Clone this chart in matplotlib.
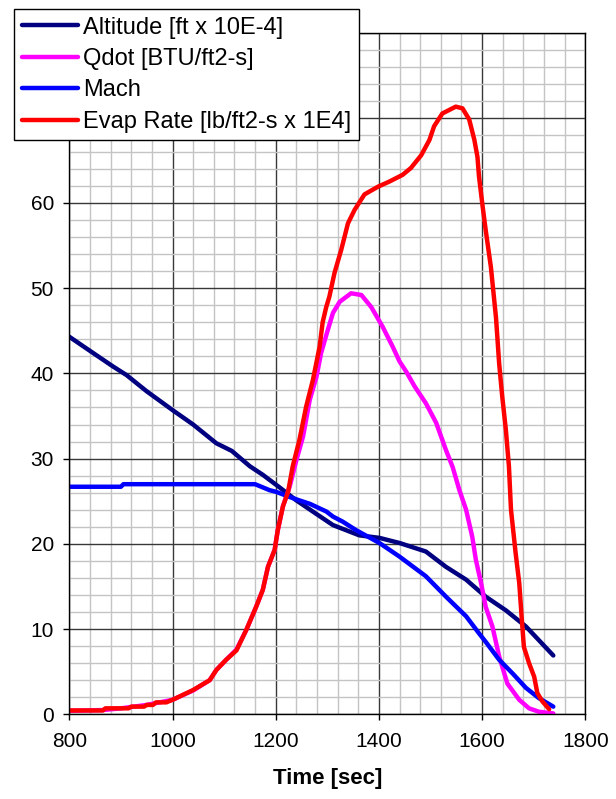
import matplotlib
matplotlib.use("Agg")
import matplotlib.pyplot as plt
from matplotlib.ticker import MultipleLocator

# ---- data ----
alt_t = [800, 846, 885, 911, 950, 1000, 1040, 1085, 1115, 1150, 1175, 1208, 1240, 1279, 1311,
         1362, 1401, 1440, 1491, 1530, 1569, 1607, 1646, 1685, 1738]
alt_v = [44.3, 42.4, 40.8, 39.8, 37.9, 35.7, 34.0, 31.8, 30.9, 29.1, 28.1, 26.6, 25.1, 23.5, 22.2,
         21.0, 20.7, 20.1, 19.1, 17.3, 15.8, 13.8, 12.2, 10.3, 6.9]

qdot_t = [800, 865, 900, 950, 1000, 1040, 1072, 1085, 1104, 1124, 1143, 1162, 1175, 1185, 1198,
          1204, 1214, 1227, 1240, 1253, 1266, 1279, 1288, 1301, 1311, 1324, 1346, 1366, 1385,
          1407, 1427, 1440, 1453, 1469, 1491, 1511, 1530, 1543, 1556, 1569, 1581, 1588, 1598,
          1607, 1620, 1633, 1649, 1672, 1691, 1710, 1738]
qdot_v = [0.4, 0.5, 0.7, 1.1, 1.7, 2.8, 4.0, 5.2, 6.4, 7.6, 9.9, 12.6, 14.6, 17.3, 19.3,
          21.6, 24.4, 26.7, 29.8, 32.6, 36.9, 39.6, 42.4, 45.1, 47.1, 48.4, 49.4, 49.2, 47.8,
          45.5, 43.1, 41.4, 40.2, 38.5, 36.5, 34.2, 31.0, 29.0, 26.3, 24.0, 20.8, 18.1, 15.4,
          12.6, 10.3, 6.8, 3.6, 1.7, 0.7, 0.3, 0.1]

mach_t = [800, 900, 905, 1160, 1188, 1201, 1227, 1246, 1266, 1298, 1311, 1330, 1356, 1401, 1440,
          1491, 1530, 1569, 1594, 1607, 1633, 1659, 1685, 1710, 1738]
mach_v = [26.7, 26.7, 27.0, 27.0, 26.3, 26.1, 25.5, 25.1, 24.7, 23.8, 23.2, 22.6, 21.6, 20.1, 18.5,
          16.2, 13.8, 11.5, 9.5, 8.5, 6.4, 4.8, 3.1, 1.9, 0.9]

evap_t = [800, 865, 870, 915, 920, 945, 950, 962, 968, 988, 1000, 1014, 1040, 1072, 1085, 1104,
          1124, 1143, 1162, 1175, 1185, 1198, 1204, 1214, 1224, 1233, 1246, 1259, 1272, 1285,
          1291, 1298, 1304, 1314, 1327, 1340, 1353, 1372, 1398, 1420, 1446, 1462, 1482, 1498,
          1507, 1523, 1549, 1562, 1575, 1585, 1591, 1594, 1601, 1607, 1617, 1627, 1633, 1639,
          1646, 1652, 1656, 1665, 1672, 1677, 1681, 1691, 1701, 1707, 1717, 1730]
evap_v = [0.45, 0.45, 0.7, 0.7, 0.9, 0.9, 1.1, 1.1, 1.4, 1.4, 1.7, 2.1, 2.85, 4.0, 5.2, 6.4,
          7.5, 9.9, 12.6, 14.6, 17.3, 19.3, 21.6, 24.4, 26.1, 29.1, 32.2, 36.1, 39.2, 43.1,
          46.0, 47.8, 49.0, 51.8, 54.5, 57.6, 59.2, 61.0, 61.9, 62.5, 63.3, 64.1, 65.6, 67.4,
          69.0, 70.5, 71.3, 71.1, 69.8, 67.4, 65.4, 63.1, 59.6, 56.8, 52.5, 46.5, 41.2, 37.3,
          33.4, 29.1, 24.0, 18.9, 15.4, 11.1, 7.9, 6.0, 4.4, 2.5, 1.5, 0.6]

labels = ["Altitude [ft x 10E-4]", "Qdot [BTU/ft2-s]", "Mach", "Evap Rate [lb/ft2-s x 1E4]"]
colors = ["#000080", "#FF00FF", "#0000FF", "#FF0000"]
x_ticks = [800, 1000, 1200, 1400, 1600, 1800]

plt.rcParams['font.family'] = ['Liberation Sans', 'DejaVu Sans']

W, H = 616, 799
fig = plt.figure(figsize=(W / 100, H / 100), dpi=100)
ax = fig.add_axes([69.3 / W, 1 - 714.3 / H, (585.3 - 69.3) / W, (714.3 - 32.5) / H])

lw = 3.2
for (t, v), lab, c in zip([(alt_t, alt_v), (qdot_t, qdot_v), (mach_t, mach_v), (evap_t, evap_v)],
                          labels, colors):
    ax.plot(t, v, color=c, lw=lw, label=lab, solid_joinstyle='round', solid_capstyle='round')

ax.set_xlim(800, 1800)
ax.set_ylim(0, 80)
ax.set_xticks(x_ticks)
ax.xaxis.set_minor_locator(MultipleLocator(40))
ax.yaxis.set_major_locator(MultipleLocator(10))
ax.yaxis.set_minor_locator(MultipleLocator(2))
ax.grid(which='minor', color='#c4c4c4', lw=1.0)
ax.grid(which='major', color='#383838', lw=1.0)
ax.set_axisbelow(True)
ax.tick_params(which='major', direction='out', length=4, width=1, labelsize=15, colors='black')
ax.tick_params(axis='x', which='major', pad=9)
ax.tick_params(axis='y', which='major', pad=7)
ax.tick_params(which='minor', length=0)
for s in ax.spines.values():
    s.set_color('black')
    s.set_linewidth(1.0)

ax.set_xlabel("Time [sec]", fontsize=16, fontweight='bold', labelpad=12)

leg = fig.legend(loc='upper left', bbox_to_anchor=(14 / W, 1 - 9 / H),
                 bbox_transform=fig.transFigure, borderaxespad=0,
                 fontsize=17, frameon=True, fancybox=False, framealpha=1,
                 edgecolor='black', handlelength=2.37, handletextpad=0.25,
                 borderpad=0.32, labelspacing=0.4)
leg.get_frame().set_linewidth(1.0)
for line in leg.get_lines():
    line.set_linewidth(3.2)

fig.savefig("out.png", dpi=100)
